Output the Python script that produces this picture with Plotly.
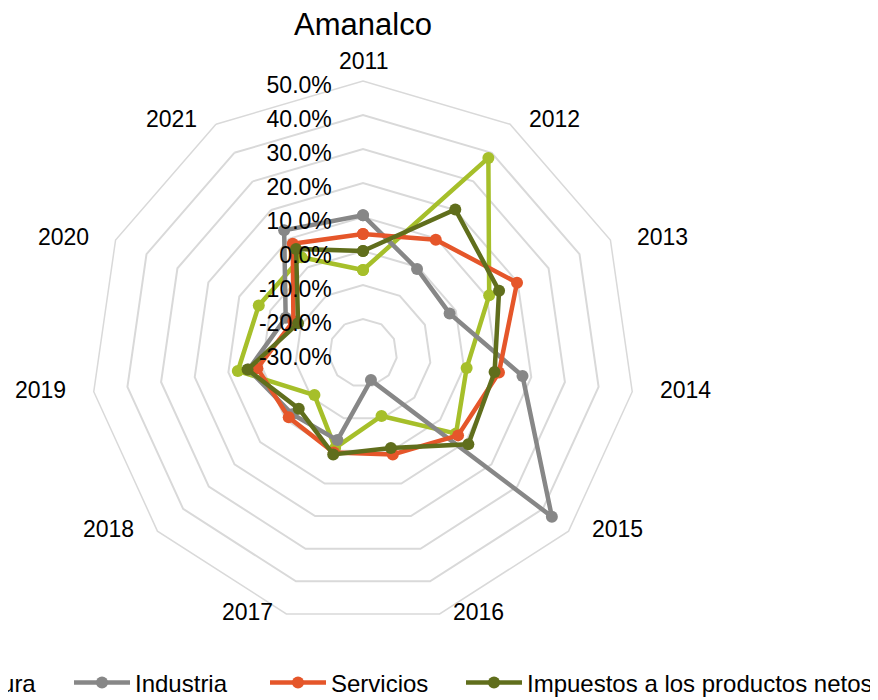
import math
import plotly.graph_objects as go

# ---- data ----
years = ["2011", "2012", "2013", "2014", "2015", "2016", "2017", "2018", "2019", "2020", "2021"]
agricultura = [-0.056, 0.382, 0.108, 0.008, 0.062, -0.107, -0.009, -0.111, 0.072, 0.037, 0.035]
industria = [0.105, -0.006, -0.020, 0.174, 0.435, -0.217, -0.033, -0.025, 0.040, -0.050, 0.129]
servicios = [0.050, 0.096, 0.198, 0.104, 0.070, 0.011, 0.005, -0.011, 0.014, -0.075, 0.082]
impuestos = [0.000, 0.202, 0.140, 0.091, 0.110, -0.009, 0.011, -0.050, 0.043, -0.090, 0.064]

series_names = ["Agricultura", "Industria", "Servicios", "Impuestos a los productos netos"]
series_values = [agricultura, industria, servicios, impuestos]
series_colors = ["#A6BF2A", "#878787", "#E5562A", "#606E1C"]

tick_values = [-0.3, -0.2, -0.1, 0.0, 0.1, 0.2, 0.3, 0.4, 0.5]
tick_labels = ["-30.0%", "-20.0%", "-10.0%", "0.0%", "10.0%", "20.0%", "30.0%", "40.0%", "50.0%"]

# the radial axis starts at its minimum (the centre); values are measured from it
base = tick_values[0]

# page body has an 8px margin -> figure drawn 8px right/down; size it to end at the window edge
W, H = 870, 692
OFF = 8
cx, cy, R = 363 - OFF, 353 - OFF, 272

fig = go.Figure()
legend_widths = [125, 125, 125, 350]
for name, vals, color, lw in zip(series_names, series_values, series_colors, legend_widths):
    fig.add_trace(go.Scatterpolar(
        r=[v - base for v in vals] + [vals[0] - base],
        theta=years + [years[0]],
        name=name,
        mode="lines+markers",
        line=dict(color=color, width=4.5),
        marker=dict(color=color, size=12),
        showlegend=(name != "Agricultura"),
        legendwidth=lw,
    ))

# category labels placed Excel-style next to the outer polygon vertices
annotations = []
n = len(years)
for k, label in enumerate(years):
    th = 2 * math.pi * k / n
    s, c = math.sin(th), math.cos(th)
    vx, vy = cx + s * R, cy - c * R
    if abs(s) < 0.01:
        ax, xa, ay = vx, "center", vy - 20
    else:
        gap = 6 + 20 * abs(s)
        ax = vx + (gap if s > 0 else -gap)
        xa = "left" if s > 0 else "right"
        ay = vy - 2 - 4.5 * max(c, 0) ** 2
    annotations.append(dict(
        text=label, x=ax / W, y=1 - ay / H, xref="paper", yref="paper",
        xanchor=xa, yanchor="middle", showarrow=False,
        font=dict(size=23, color="#000000"),
    ))

legend_y = 675  # px from top of the figure
# first legend entry: only its tail is visible at the left edge (as in the reference)
annotations.append(dict(
    text=series_names[0], x=30 / W, y=1 - legend_y / H, xref="paper", yref="paper",
    xanchor="right", yanchor="middle", showarrow=False,
    font=dict(size=24, color="#000000"),
))

fig.update_layout(
    width=W, height=H,
    margin=dict(l=0, r=0, t=0, b=0, autoexpand=False),
    paper_bgcolor="white",
    font=dict(family="Liberation Sans, Arial, sans-serif", color="#000000"),
    title=dict(text="Amanalco", x=cx / W, xanchor="center", y=1 - 16 / H, yanchor="middle",
               font=dict(size=31, color="#000000")),
    polar=dict(
        domain=dict(x=[(cx - R) / W, (cx + R) / W], y=[(H - cy - R) / H, (H - cy + R) / H]),
        bgcolor="white",
        gridshape="linear",
        radialaxis=dict(
            range=[0, tick_values[-1] - base],
            tickvals=[t - base for t in tick_values], ticktext=tick_labels,
            angle=90, side="counterclockwise", showline=False,
            ticks="outside", ticklen=10, tickcolor="rgba(0,0,0,0)",
            gridcolor="#D9D9D9", gridwidth=1.5, tickfont=dict(size=23, color="#000000"),
        ),
        angularaxis=dict(
            type="category", categoryarray=years, rotation=90, direction="clockwise",
            showgrid=False, showline=True, linecolor="#D9D9D9", linewidth=1.5,
            ticks="", showticklabels=False,
        ),
    ),
    annotations=annotations,
    showlegend=True,
    legend=dict(
        orientation="h", x=61 / W, xanchor="left", y=1 - legend_y / H, yanchor="middle",
        font=dict(size=24, color="#000000"), itemwidth=56,
        entrywidthmode="pixels", bgcolor="rgba(0,0,0,0)",
    ),
)

fig.write_html("out.html")
